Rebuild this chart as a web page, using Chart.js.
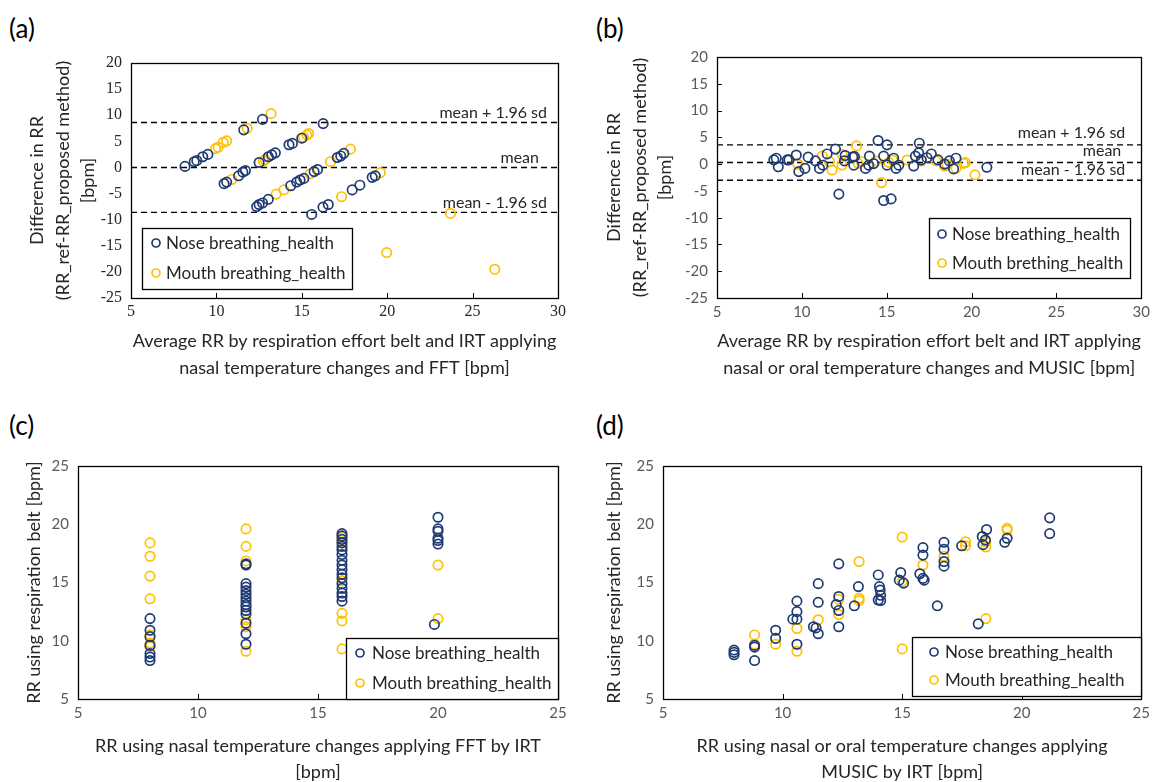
<!DOCTYPE html>
<html>
<head>
<meta charset="utf-8">
<script src="https://cdn.jsdelivr.net/npm/chart.js@4.4.0/dist/chart.umd.min.js"></script>
<style>
  body { margin: 0; background: #fff; width: 1155px; height: 782px; position: relative; overflow: hidden; font-family: Lato, sans-serif; }
  canvas { position: absolute; display: block; }
  .tag { position: absolute; font-size: 26px; line-height: 30px; color: #000; }
</style>
</head>
<body>
<div class="tag" style="left:9px;top:13px">(a)</div>
<div class="tag" style="left:596px;top:13px">(b)</div>
<div class="tag" style="left:9px;top:410px">(c)</div>
<div class="tag" style="left:596px;top:410px">(d)</div>
<canvas id="pa" width="580" height="390" style="left:0;top:0"></canvas>
<canvas id="pb" width="575" height="390" style="left:580px;top:0"></canvas>
<canvas id="pc" width="580" height="392" style="left:0;top:390px"></canvas>
<canvas id="pd" width="575" height="392" style="left:580px;top:390px"></canvas>
<script>
// ---- data ----
const seriesNames = ['Nose breathing_health', 'Mouth breathing_health'];
const seriesNamesB = ['Nose breathing_health', 'Mouth brething_health']; // typo kept as in source

const xTicksAB = [5, 10, 15, 20, 25, 30];
const yTicksAB = [-25, -20, -15, -10, -5, 0, 5, 10, 15, 20];
const xTicksCD = [5, 10, 15, 20, 25];
const yTicksCD = [5, 10, 15, 20, 25];

const limitLabels = ['mean + 1.96 sd', 'mean', 'mean - 1.96 sd'];
const limitsA = [8.6, 0.0, -8.6];
const limitsB = [3.6, 0.3, -3.0];

// (a) Bland-Altman, FFT
const noseA = [[8.16,0.2],[8.7,1.1],[8.85,1.3],[9.2,2.05],[9.5,2.5],[11.6,7.2],[12.7,9.2],
  [10.45,-3.1],[10.6,-2.8],[11.3,-1.6],[11.55,-0.9],[11.7,-0.6],[12.5,0.95],[13.04,2.05],[13.24,2.4],[13.45,2.8],
  [14.25,4.35],[14.45,4.6],[15.0,5.6],[16.25,8.4],
  [12.36,-7.5],[12.5,-7.1],[12.7,-6.8],[13.04,-6.1],[14.35,-3.5],[14.7,-2.8],[14.9,-2.4],[15.12,-2.1],[15.72,-0.8],
  [15.92,-0.4],[17.08,1.9],[17.28,2.2],[17.46,2.7],
  [15.58,-9.0],[16.24,-7.6],[16.55,-7.1],[17.95,-4.3],[18.4,-3.4],[19.12,-1.9],[19.3,-1.6]];
const mouthA = [[9.95,3.6],[10.1,3.85],[10.4,4.8],[10.6,5.1],[11.8,7.5],[13.2,10.3],
  [10.9,-2.3],[12.75,1.2],[12.85,1.5],[15.1,5.8],[15.3,6.2],[15.4,6.5],
  [13.5,-5.1],[13.95,-4.3],[15.5,-1.2],[16.68,1.1],[17.85,3.5],
  [17.33,-5.6],[19.6,-1.0],
  [19.97,-16.3],[23.7,-8.8],[26.3,-19.5]];

// (b) Bland-Altman, MUSIC
const noseB = [[8.35,0.8],[8.49,1.1],[8.61,-0.5],[9.14,0.8],[9.24,0.8],[9.67,1.7],[9.82,-1.4],[10.18,-0.8],[10.37,1.3],
  [10.8,0.6],[11.04,-0.8],[11.24,-0.2],[11.49,1.9],[11.98,2.8],[12.18,-5.6],[12.51,0.6],[12.55,1.6],[13.0,1.3],[13.06,-0.2],
  [13.1,1.4],[13.75,-0.8],[13.94,-0.2],[13.98,1.5],[14.23,0.1],[14.49,4.4],[14.82,1.5],[15.02,-0.2],[15.02,3.6],
  [14.82,-6.8],[15.26,-6.5],[15.41,1.1],[15.55,-0.8],[15.71,-0.2],[16.59,-0.35],[16.69,1.5],[16.88,2.1],[16.92,3.9],
  [17.04,0.8],[17.37,1.2],[17.63,1.9],[18.02,0.8],[18.41,0.0],[18.69,0.6],[18.94,-0.9],[19.08,1.1],[20.9,-0.6]];
const mouthB = [[9.76,0.0],[11.2,1.5],[11.63,0.45],[11.78,-1.1],[12.37,1.8],[12.37,-0.17],[13.0,1.4],[13.22,3.4],
  [13.31,0.14],[13.51,0.45],[14.37,0.58],[14.69,-3.45],[15.12,0.33],[15.35,0.77],[16.2,0.77],[17.04,0.58],[17.9,0.64],
  [18.41,-0.35],[18.55,0.02],[19.08,-0.79],[19.53,0.14],[19.63,0.27],[20.2,-2.0]];

// (c) FFT vs belt
const noseC = [[8,11.9],[8,10.9],[8,10.35],[8,9.6],[8,8.9],[8,8.6],[8,8.3],
  [12,16.6],[12,16.5],[12,14.9],[12,14.6],[12,14.3],[12,14.0],[12,13.7],[12,13.4],[12,13.1],[12,12.9],[12,12.6],
  [12,12.3],[12,11.5],[12,10.6],[12,9.7],
  [16,19.2],[16,19.0],[16,18.7],[16,18.4],[16,18.1],[16,17.8],[16,17.4],[16,16.9],[16,16.5],[16,16.1],[16,15.7],
  [16,15.4],[16,14.9],[16,14.5],[16,14.1],[16,13.8],[16,13.4],
  [20,20.6],[20,19.6],[20,19.4],[20,18.8],[20,18.6],[20,18.3],[19.85,11.4]];
const mouthC = [[8,18.4],[8,17.25],[8,15.55],[8,13.6],[8,10.5],[8,9.8],[8,9.5],
  [12,19.6],[12,18.1],[12,16.85],[12,11.8],[12,11.2],[12,9.1],
  [16,18.9],[16,18.5],[16,15.15],[16,12.35],[16,11.7],[16,9.3],
  [20,16.5],[20,11.9]];

// (d) MUSIC vs belt
const noseD = [[7.97,9.2],[7.97,9.0],[7.97,8.8],[8.83,9.6],[8.83,9.45],[8.83,8.3],[9.71,10.9],[9.71,10.2],[10.43,11.85],
  [10.6,13.4],[10.6,12.5],[10.6,11.85],[10.6,9.7],[11.29,11.2],[11.4,11.1],[11.49,14.9],[11.49,13.3],[11.49,10.6],
  [12.24,13.1],[12.35,13.8],[12.35,12.6],[12.35,11.2],[12.35,16.6],[13.0,13.0],[13.17,14.65],[14.0,15.65],[14.05,14.65],
  [14.08,14.35],[14.1,13.9],[14.1,13.45],[14.0,13.5],[14.88,15.2],[14.94,15.85],[15.06,14.95],[15.74,15.75],[15.87,18.0],
  [15.87,17.35],[15.87,15.35],[15.92,15.2],[16.47,13.0],[16.75,18.45],[16.75,17.85],[16.75,16.8],[16.75,16.4],
  [17.49,18.15],[18.18,11.45],[18.35,18.95],[18.38,18.25],[18.48,18.65],[18.53,19.55],[19.29,18.45],[19.39,18.8],
  [21.17,20.55],[21.17,19.2]];
const mouthD = [[8.83,10.5],[8.83,9.7],[9.71,9.7],[10.6,11.05],[10.6,9.1],[11.49,11.8],[12.35,13.55],[12.35,12.25],
  [13.2,16.8],[13.2,13.65],[13.2,13.45],[15.0,18.9],[15.0,15.1],[15.0,9.3],[15.87,16.5],[16.75,17.25],[17.65,18.5],
  [17.65,18.15],[18.5,18.5],[18.5,18.05],[18.5,11.9],[19.39,19.65],[19.39,19.5]];

// ---- styling ----
const NAVY = '#1F3A73';
const GOLD = '#FFC000';
const SANS = 'Lato, "Open Sans", sans-serif';
const TXT = '#262626';

// frame, inward tick marks, limit labels and legend box
const deco = {
  id: 'deco',
  afterDatasetsDraw(chart, args, o) {
    const { ctx, chartArea: a, scales: { x, y } } = chart;
    ctx.save();
    ctx.strokeStyle = '#000';
    ctx.lineWidth = 1;
    ctx.beginPath();
    if (o.xTicks) x.ticks.forEach(t => {
      const px = Math.round(x.getPixelForValue(t.value)) + 0.5;
      ctx.moveTo(px, a.bottom); ctx.lineTo(px, a.bottom - 5);
    });
    if (o.yTicks) y.ticks.forEach(t => {
      const py = Math.round(y.getPixelForValue(t.value)) + 0.5;
      ctx.moveTo(a.left, py); ctx.lineTo(a.left + 5, py);
    });
    ctx.stroke();
    ctx.lineWidth = 1.3;
    ctx.strokeRect(Math.round(a.left) + 0.5, Math.round(a.top) + 0.5, Math.round(a.width), Math.round(a.height));

    // labels of the limit lines
    ctx.fillStyle = TXT;
    ctx.font = '16px ' + SANS;
    ctx.textAlign = 'right';
    ctx.textBaseline = 'middle';
    (o.refs || []).forEach(r => {
      ctx.fillText(r.text, a.right - r.dx, y.getPixelForValue(r.value) - r.dy);
    });

    // legend
    if (o.legend) {
      const L = o.legend;
      const lx = a.left + L.dx, ly = a.top + L.dy;
      ctx.fillStyle = '#fff';
      ctx.fillRect(lx, ly, L.w, L.h);
      ctx.lineWidth = 1.3;
      ctx.strokeStyle = '#000';
      ctx.strokeRect(lx + 0.5, ly + 0.5, L.w, L.h);
      const items = chart.data.datasets.filter(d => d.type !== 'line');
      ctx.font = '17px ' + SANS;
      ctx.textAlign = 'left';
      items.forEach((d, i) => {
        const cy = ly + L.rows[i];
        ctx.beginPath();
        ctx.lineWidth = 1.7;
        ctx.strokeStyle = d.borderColor;
        ctx.arc(lx + L.mark, cy, 4, 0, Math.PI * 2);
        ctx.stroke();
        ctx.fillStyle = TXT;
        ctx.fillText(d.label, lx + L.text, cy + 1);
      });
    }
    ctx.restore();
  }
};

function pts(arr) { return arr.map(p => ({ x: p[0], y: p[1] })); }

function scatterSet(label, arr, color) {
  return {
    label: label, data: pts(arr),
    borderColor: color, backgroundColor: 'rgba(0,0,0,0)',
    pointRadius: 4.7, pointHoverRadius: 4.7, borderWidth: 1.7
  };
}

function limitSets(values, xr) {
  return values.map(v => ({
    type: 'line', label: 'limit',
    data: [{ x: xr[0], y: v }, { x: xr[xr.length - 1], y: v }],
    borderColor: '#000', borderWidth: 1.4, borderDash: [6, 4],
    pointRadius: 0, fill: false
  }));
}

function axis(ticks, opts) {
  return {
    type: 'linear',
    min: ticks[0], max: ticks[ticks.length - 1],
    afterBuildTicks: s => { s.ticks = ticks.map(v => ({ value: v })); },
    afterFit: opts.fit,
    grid: { display: false, drawTicks: false },
    border: { display: false },
    ticks: {
      autoSkip: false, maxRotation: 0, padding: opts.tickPad,
      color: opts.tickColor || '#595959',
      font: opts.tickFont || { family: SANS, size: 15 }
    },
    title: {
      display: true, text: opts.title, color: TXT,
      font: { family: SANS, size: 18, lineHeight: opts.lh || 1.4 },
      padding: opts.titlePad
    }
  };
}

function makePanel(id, datasets, xs, ys, pad, deco_opts) {
  return new Chart(document.getElementById(id), {
    type: 'scatter',
    data: { datasets: datasets },
    options: {
      responsive: false,
      animation: false,
      layout: { padding: pad },
      plugins: { legend: { display: false }, tooltip: { enabled: false }, deco: deco_opts },
      scales: { x: xs, y: ys }
    },
    plugins: [deco]
  });
}

const serifTicks = { family: '"Liberation Serif", "Times New Roman", serif', size: 16 };
const refsFor = (vals, dxs, dys) => vals.map((v, i) => ({ text: limitLabels[i], value: v, dx: dxs[i], dy: dys[i] }));

// (a)
makePanel('pa',
  [scatterSet(seriesNames[0], noseA, NAVY), scatterSet(seriesNames[1], mouthA, GOLD)].concat(limitSets(limitsA, xTicksAB)),
  axis(xTicksAB, { fit: s => { s.height = 92; }, tickPad: 4, tickColor: '#262626', tickFont: serifTicks,
    title: ['Average RR by respiration effort belt and IRT applying', 'nasal temperature changes and FFT [bpm]'],
    titlePad: { top: 0, bottom: 8 }, lh: 1.5 }),
  axis(yTicksAB, { fit: s => { s.width = 131; }, tickPad: 9, tickColor: '#262626', tickFont: serifTicks,
    title: ['Difference in RR', '(RR_ref-RR_proposed method)', '[bpm]'],
    titlePad: { top: 25, bottom: 0 } }),
  { top: 63, right: 22, left: 0, bottom: 0 },
  { xTicks: true, refs: refsFor(limitsA, [11, 19, 11], [10, 10, 10]),
    legend: { dx: 11, dy: 165, w: 210, h: 61, rows: [15, 45], mark: 14, text: 24 } });

// (b)
makePanel('pb',
  [scatterSet(seriesNamesB[0], noseB, NAVY), scatterSet(seriesNamesB[1], mouthB, GOLD)].concat(limitSets(limitsB, xTicksAB)),
  axis(xTicksAB, { fit: s => { s.height = 92; }, tickPad: 5,
    title: ['Average RR by respiration effort belt and IRT applying', 'nasal or oral temperature changes and MUSIC [bpm]'],
    titlePad: { top: 0, bottom: 8 }, lh: 1.5 }),
  axis(yTicksAB, { fit: s => { s.width = 137; }, tickPad: 9,
    title: ['Difference in RR', '(RR_ref-RR_proposed method)', '[bpm]'],
    titlePad: { top: 22, bottom: 0 } }),
  { top: 57, right: 12, left: 0, bottom: 0 },
  { xTicks: true, yTicks: true, refs: refsFor(limitsB, [16, 20, 16], [12, 12, 10]),
    legend: { dx: 212, dy: 161, w: 201, h: 60, rows: [16, 45], mark: 13, text: 23 } });

// (c)
makePanel('pc',
  [scatterSet(seriesNames[0], noseC, NAVY), scatterSet(seriesNames[1], mouthC, GOLD)],
  axis(xTicksCD, { fit: s => { s.height = 83; }, tickPad: 5,
    title: ['RR using nasal temperature changes applying FFT by IRT', '[bpm]'],
    titlePad: { top: 0, bottom: -3 }, lh: 1.45 }),
  axis(yTicksCD, { fit: s => { s.width = 78; }, tickPad: 9,
    title: 'RR using respiration belt [bpm]', titlePad: { top: 22, bottom: 0 } }),
  { top: 76, right: 22, left: 0, bottom: 0 },
  { xTicks: true, legend: { dx: 268, dy: 172, w: 212, h: 61, rows: [15, 45], mark: 14, text: 26 } });

// (d)
makePanel('pd',
  [scatterSet(seriesNames[0], noseD, NAVY), scatterSet(seriesNames[1], mouthD, GOLD)],
  axis(xTicksCD, { fit: s => { s.height = 83; }, tickPad: 5,
    title: ['RR using nasal or oral temperature changes applying', 'MUSIC by IRT [bpm]'],
    titlePad: { top: 0, bottom: -3 }, lh: 1.45 }),
  axis(yTicksCD, { fit: s => { s.width = 83; }, tickPad: 9,
    title: 'RR using respiration belt [bpm]', titlePad: { top: 22, bottom: 0 } }),
  { top: 76, right: 11, left: 0, bottom: 0 },
  { xTicks: true, legend: { dx: 249, dy: 171, w: 229, h: 59, rows: [15, 43], mark: 22, text: 33 } });
</script>
</body>
</html>
